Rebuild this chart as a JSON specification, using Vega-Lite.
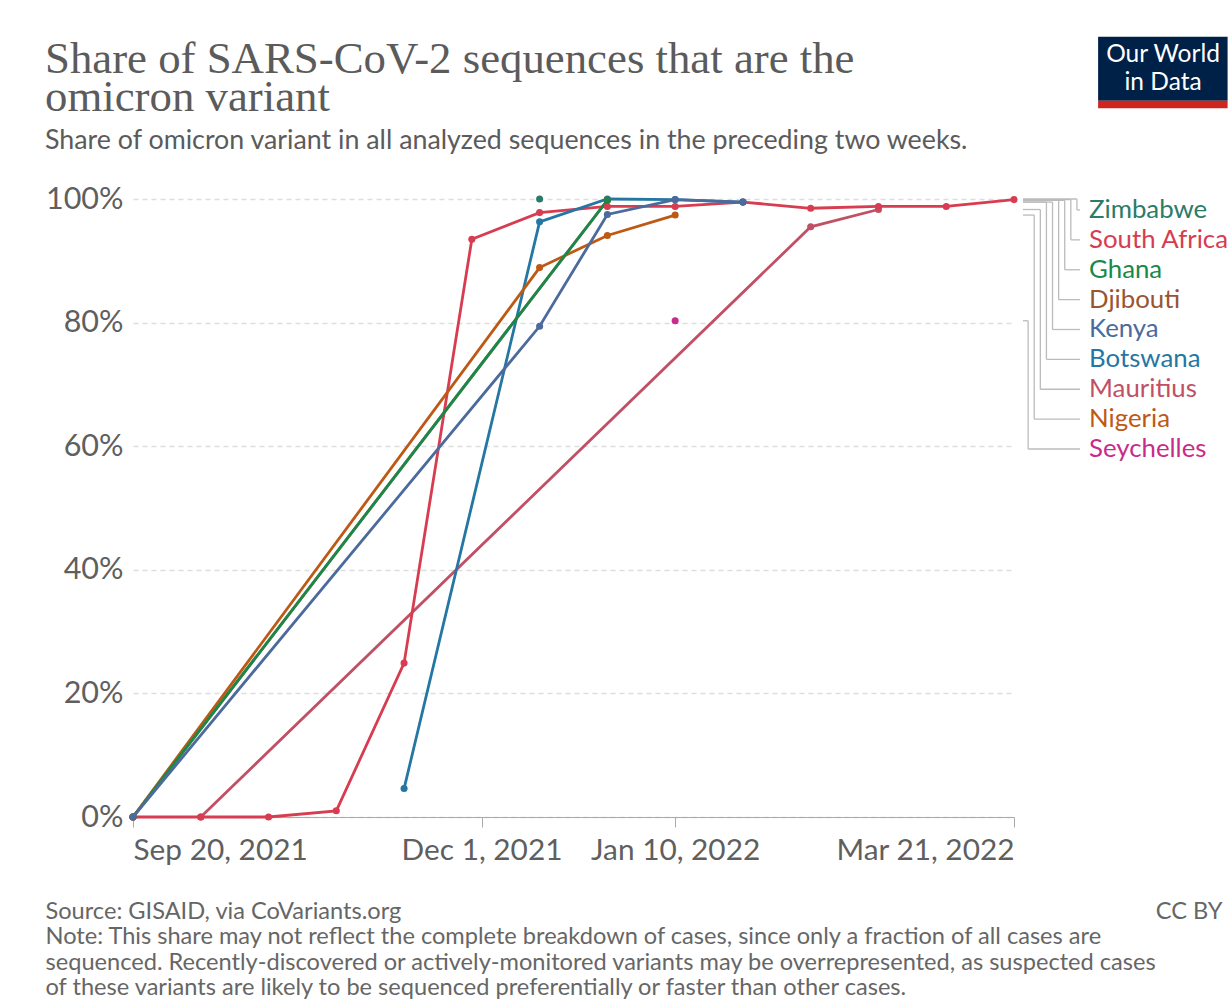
{
  "$schema": "https://vega.github.io/schema/vega-lite/v6.json",
  "autosize": {"type": "none"},
  "padding": {"left": 133, "top": 199, "right": 215, "bottom": 185},
  "width": 881,
  "height": 618,
  "background": "white",
  "config": {"view": {"stroke": null}},
  "title": {
    "text": ["Share of SARS-CoV-2 sequences that are the", "omicron variant"],
    "subtitle": "Share of omicron variant in all analyzed sequences in the preceding two weeks.",
    "anchor": "start",
    "frame": "group",
    "dx": -88,
    "dy": 149,
    "font": "Liberation Serif",
    "fontSize": 44.8,
    "fontWeight": "normal",
    "color": "#5b5b5b",
    "lineHeight": 38,
    "subtitleFont": "Lato",
    "subtitleFontSize": 26.8,
    "subtitleColor": "#5b5b5b",
    "subtitlePadding": 7,
    "offset": 30
  },
  "data": {
    "values": [
      {"country": "Mauritius", "date": "2021-10-04", "share": 0},
      {"country": "Mauritius", "date": "2022-02-07", "share": 95.5},
      {"country": "Mauritius", "date": "2022-02-21", "share": 98.3},
      {"country": "South Africa", "date": "2021-09-20", "share": 0},
      {"country": "South Africa", "date": "2021-10-04", "share": 0},
      {"country": "South Africa", "date": "2021-10-18", "share": 0},
      {"country": "South Africa", "date": "2021-11-01", "share": 1.0},
      {"country": "South Africa", "date": "2021-11-15", "share": 24.9},
      {"country": "South Africa", "date": "2021-11-29", "share": 93.5},
      {"country": "South Africa", "date": "2021-12-13", "share": 97.8},
      {"country": "South Africa", "date": "2021-12-27", "share": 98.8},
      {"country": "South Africa", "date": "2022-01-10", "share": 98.8},
      {"country": "South Africa", "date": "2022-01-24", "share": 99.5},
      {"country": "South Africa", "date": "2022-02-07", "share": 98.5},
      {"country": "South Africa", "date": "2022-02-21", "share": 98.8},
      {"country": "South Africa", "date": "2022-03-07", "share": 98.8},
      {"country": "South Africa", "date": "2022-03-21", "share": 99.9},
      {"country": "Botswana", "date": "2021-11-15", "share": 4.6},
      {"country": "Botswana", "date": "2021-12-13", "share": 96.3},
      {"country": "Botswana", "date": "2021-12-27", "share": 100},
      {"country": "Botswana", "date": "2022-01-10", "share": 99.9},
      {"country": "Botswana", "date": "2022-01-24", "share": 99.5},
      {"country": "Djibouti", "date": "2021-09-20", "share": 0},
      {"country": "Djibouti", "date": "2021-12-27", "share": 99.8},
      {"country": "Nigeria", "date": "2021-09-20", "share": 0},
      {"country": "Nigeria", "date": "2021-12-13", "share": 88.9},
      {"country": "Nigeria", "date": "2021-12-27", "share": 94.1},
      {"country": "Nigeria", "date": "2022-01-10", "share": 97.4},
      {"country": "Ghana", "date": "2021-09-20", "share": 0},
      {"country": "Ghana", "date": "2021-12-27", "share": 99.8},
      {"country": "Kenya", "date": "2021-09-20", "share": 0},
      {"country": "Kenya", "date": "2021-12-13", "share": 79.4},
      {"country": "Kenya", "date": "2021-12-27", "share": 97.5},
      {"country": "Kenya", "date": "2022-01-10", "share": 99.9},
      {"country": "Kenya", "date": "2022-01-24", "share": 99.5},
      {"country": "Zimbabwe", "date": "2021-12-13", "share": 100},
      {"country": "Seychelles", "date": "2022-01-10", "share": 80.3}
    ]
  },
  "layer": [
    {
      "mark": {"type": "line", "strokeWidth": 2.8},
      "encoding": {
        "x": {
          "field": "date", "type": "temporal",
          "scale": {"type": "utc", "domain": [{"year": 2021, "month": 9, "date": 20, "utc": true}, {"year": 2022, "month": 3, "date": 21, "utc": true}], "nice": false},
          "axis": {
            "values": [{"year": 2021, "month": 9, "date": 20, "utc": true}, {"year": 2021, "month": 12, "date": 1, "utc": true}, {"year": 2022, "month": 1, "date": 10, "utc": true}, {"year": 2022, "month": 3, "date": 21, "utc": true}],
            "format": "%b %-d, %Y",
            "labelFlush": true,
            "labelLimit": 400,
            "labelFont": "Lato",
            "labelFontSize": 29.8,
            "labelColor": "#5f5f5f",
            "labelPadding": 8,
            "labelBaseline": "top",
            "ticks": true,
            "tickSize": 10,
            "tickColor": "#aaaaaa",
            "domain": true,
            "domainColor": "#aaaaaa",
            "grid": false,
            "title": [
              "Source: GISAID, via CoVariants.org",
              "Note: This share may not reflect the complete breakdown of cases, since only a fraction of all cases are",
              "sequenced. Recently-discovered or actively-monitored variants may be overrepresented, as suspected cases",
              "of these variants are likely to be sequenced preferentially or faster than other cases."
            ],
            "titleFont": "Lato",
            "titleFontSize": 23.6,
            "titleFontWeight": "normal",
            "titleColor": "#666666",
            "titleAlign": "left",
            "titleBaseline": "alphabetic",
            "titleX": -88,
            "titleY": 101,
            "titleLineHeight": 25.5
          }
        },
        "y": {
          "field": "share", "type": "quantitative",
          "scale": {"domain": [0, 100], "nice": false},
          "axis": {
            "values": [0, 20, 40, 60, 80, 100],
            "labelExpr": "datum.value + '%'",
            "labelFont": "Lato",
            "labelFontSize": 30.5,
            "labelColor": "#5f5f5f",
            "labelPadding": 10,
            "ticks": false,
            "domain": false,
            "grid": true,
            "gridDash": [5, 4],
            "gridColor": "#dddddd",
            "gridWidth": 1.3,
            "title": "CC BY",
            "titleAngle": 0,
            "titleFont": "Lato",
            "titleFontSize": 23.6,
            "titleFontWeight": "normal",
            "titleColor": "#666666",
            "titleAlign": "right",
            "titleBaseline": "alphabetic",
            "titleX": 1089,
            "titleY": 719
          }
        },
        "color": {
          "field": "country", "type": "nominal", "legend": null,
          "scale": {
            "domain": ["Zimbabwe", "South Africa", "Ghana", "Djibouti", "Kenya", "Botswana", "Mauritius", "Nigeria", "Seychelles"],
            "range": ["#2b7b6a", "#d73c50", "#18894a", "#9a5530", "#4c6a9c", "#2577a3", "#c15065", "#be5915", "#c92b8c"]
          }
        }
      }
    },
    {
      "mark": {"type": "circle", "size": 50, "opacity": 1},
      "encoding": {
        "x": {"field": "date", "type": "temporal"},
        "y": {"field": "share", "type": "quantitative"},
        "color": {"field": "country", "type": "nominal", "legend": null}
      }
    },
    {
      "transform": [
        {"aggregate": [{"op": "argmax", "field": "date", "as": "lastrow"}], "groupby": ["country"]},
        {"calculate": "datum.lastrow.share", "as": "last"},
        {"calculate": "indexof(['Zimbabwe','South Africa','Ghana','Djibouti','Kenya','Botswana','Mauritius','Nigeria','Seychelles'], datum.country)", "as": "rank"},
        {"calculate": "98.22 - 4.834 * datum.rank", "as": "labelY"},
        {"calculate": "utc(2022, 2, 21) + 86400000 * 1.86", "as": "x0"},
        {"calculate": "utc(2022, 2, 21) + 86400000 * (13.0 - 1.26 * datum.rank)", "as": "xElbow"},
        {"calculate": "utc(2022, 2, 21) + 86400000 * 13.63", "as": "x1"},
        {"calculate": "utc(2022, 2, 21) + 86400000 * 15.5", "as": "xLabel"}
      ],
      "layer": [
        {
          "mark": {"type": "rule", "color": "#bbbbbb", "strokeWidth": 1.3},
          "encoding": {
            "x": {"field": "x0", "type": "temporal"},
            "x2": {"field": "xElbow"},
            "y": {"field": "last", "type": "quantitative"}
          }
        },
        {
          "mark": {"type": "rule", "color": "#bbbbbb", "strokeWidth": 1.3},
          "encoding": {
            "x": {"field": "xElbow", "type": "temporal"},
            "y": {"field": "last", "type": "quantitative"},
            "y2": {"field": "labelY"}
          }
        },
        {
          "mark": {"type": "rule", "color": "#bbbbbb", "strokeWidth": 1.3},
          "encoding": {
            "x": {"field": "xElbow", "type": "temporal"},
            "x2": {"field": "x1"},
            "y": {"field": "labelY", "type": "quantitative"}
          }
        },
        {
          "mark": {"type": "text", "align": "left", "baseline": "middle", "font": "Lato", "fontSize": 25.8},
          "encoding": {
            "x": {"field": "xLabel", "type": "temporal"},
            "y": {"field": "labelY", "type": "quantitative"},
            "text": {"field": "country"},
            "color": {"field": "country", "type": "nominal", "legend": null}
          }
        }
      ]
    },
    {
      "data": {"values": [{"logo": "Our World in Data"}]},
      "layer": [
        {
          "mark": {"type": "rect", "color": "#002147"},
          "encoding": {
            "x": {"datum": {"year": 2022, "month": 4, "date": 7, "hours": 9, "utc": true}, "type": "temporal"},
            "x2": {"datum": {"year": 2022, "month": 5, "date": 4, "hours": 3, "utc": true}},
            "y": {"datum": 126.26, "type": "quantitative"},
            "y2": {"datum": 115.9}
          }
        },
        {
          "mark": {"type": "rect", "color": "#ce261e"},
          "encoding": {
            "x": {"datum": {"year": 2022, "month": 4, "date": 7, "hours": 9, "utc": true}, "type": "temporal"},
            "x2": {"datum": {"year": 2022, "month": 5, "date": 4, "hours": 3, "utc": true}},
            "y": {"datum": 115.9, "type": "quantitative"},
            "y2": {"datum": 114.68}
          }
        },
        {
          "mark": {"type": "text", "align": "center", "baseline": "alphabetic", "font": "Lato", "fontSize": 24.5, "color": "white", "lineHeight": 28.5},
          "encoding": {
            "x": {"datum": {"year": 2022, "month": 4, "date": 20, "hours": 19, "utc": true}, "type": "temporal"},
            "y": {"datum": 122.2, "type": "quantitative"},
            "text": {"value": ["Our World", "in Data"]}
          }
        }
      ]
    }
  ]
}
